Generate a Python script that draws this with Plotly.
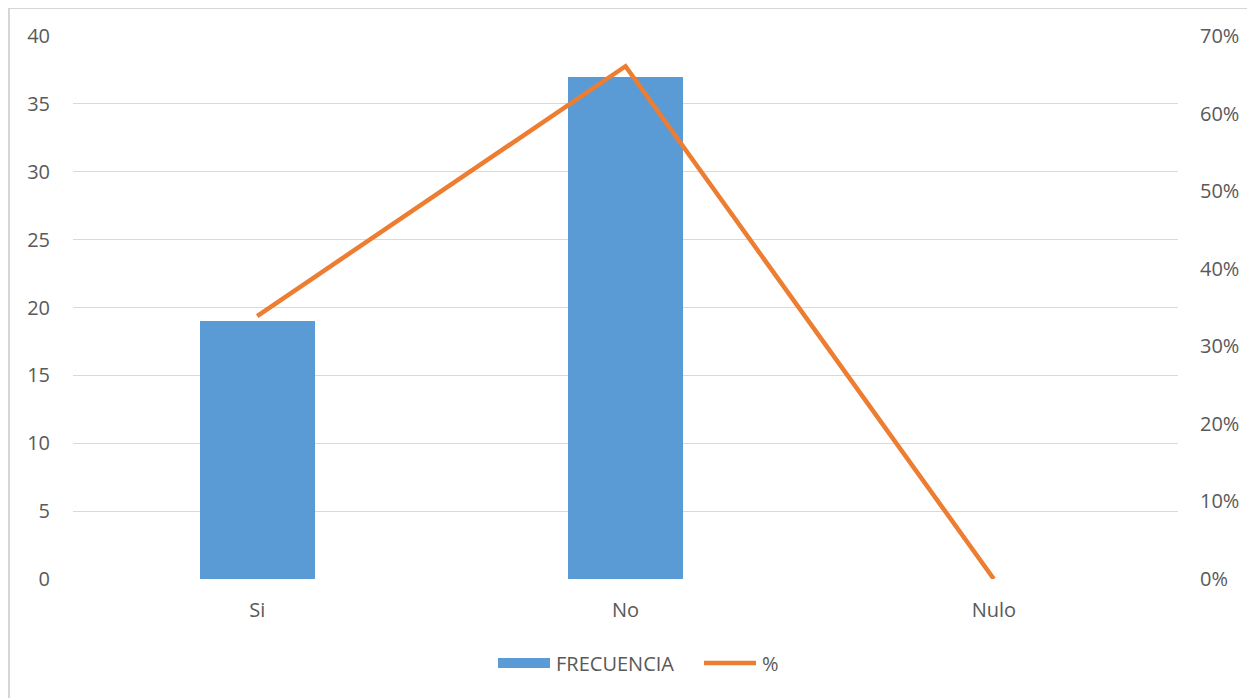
import plotly.graph_objects as go

categories = ["Si", "No", "Nulo"]
frecuencia = [19, 37, 0]
porcentaje = [0.339, 0.661, 0.0]
left_ticks = [0, 5, 10, 15, 20, 25, 30, 35, 40]
right_ticks = [0, 0.1, 0.2, 0.3, 0.4, 0.5, 0.6, 0.7]
right_labels = ["0%", "10%", "20%", "30%", "40%", "50%", "60%", "70%"]

# page has 8px body margin
W, H = 1247, 690
L, R, T, B = 65, 77, 28, 119
pw, ph = W - L - R, H - T - B

font_color = "#595959"
FS = 20
fnt = dict(family="Open Sans, Liberation Sans, sans-serif", size=FS, color=font_color)

fig = go.Figure()
fig.add_trace(go.Bar(
    x=categories, y=frecuencia, name="FRECUENCIA",
    marker=dict(color="#5B9BD5", line=dict(width=0)), width=0.3125,
    yaxis="y", showlegend=False,
))
fig.add_trace(go.Scatter(
    x=categories, y=porcentaje, name="%", mode="lines",
    line=dict(color="#ED7D31", width=4.5), yaxis="y2", showlegend=False,
))

def px(x):
    return (x - L) / pw

def py(y):
    return (H - B - y) / ph

leg_y = 655
shapes = [
    dict(type="rect", xref="paper", yref="paper",
         x0=px(1), x1=1.2, y0=-0.4, y1=py(0),
         line=dict(color="#D6D6D6", width=2), fillcolor="rgba(0,0,0,0)", layer="below"),
    dict(type="rect", xref="paper", yref="paper",
         x0=px(490), x1=px(542), y0=py(leg_y + 5), y1=py(leg_y - 5),
         line=dict(width=0), fillcolor="#5B9BD5"),
    dict(type="line", xref="paper", yref="paper",
         x0=px(696), x1=px(748), y0=py(leg_y), y1=py(leg_y),
         line=dict(color="#ED7D31", width=4.5)),
]
annotations = [
    dict(text="FRECUENCIA", xref="paper", yref="paper", x=px(546), y=py(leg_y),
         xanchor="left", yanchor="middle", showarrow=False, font=fnt),
    dict(text="%", xref="paper", yref="paper", x=px(752), y=py(leg_y),
         xanchor="left", yanchor="middle", showarrow=False, font=fnt),
]

fig.update_layout(
    width=W, height=H,
    margin=dict(l=L, r=R, t=T, b=B, autoexpand=False),
    paper_bgcolor="white", plot_bgcolor="white",
    font=fnt,
    showlegend=False,
    bargap=0,
    xaxis=dict(showgrid=False, showline=False, ticks="", zeroline=False,
               tickfont=dict(size=FS, color=font_color), ticklabelstandoff=17),
    yaxis=dict(range=[0, 40], tickvals=left_ticks, showgrid=True, gridcolor="#D9D9D9",
               gridwidth=1, zeroline=False, showline=False, ticks="",
               tickfont=dict(size=FS, color=font_color), ticklabelstandoff=22),
    yaxis2=dict(range=[0, 0.7], tickvals=right_ticks, ticktext=right_labels, overlaying="y",
                side="right", showgrid=False, zeroline=False, showline=False, ticks="",
                tickfont=dict(size=FS, color=font_color), ticklabelstandoff=21),
    shapes=shapes,
    annotations=annotations,
)

fig.write_html("out.html")
